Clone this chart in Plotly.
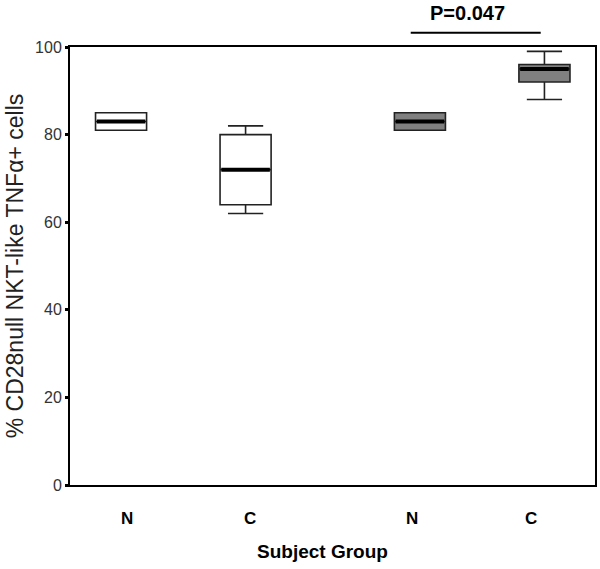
import plotly.graph_objects as go

# ---- data ----
groups = ["N", "C", "N", "C"]
q1 = [81, 64, 81, 92]
medians = [83, 72, 83, 95]
q3 = [85, 80, 85, 96]
lowerfence = [81, 62, 81, 88]
upperfence = [85, 82, 85, 99]
p_label = "P=0.047"

# ---- layout positions ----
positions = [1.0, 2.0, 3.4, 4.4]
label_pos = [1.048, 2.036, 3.337, 4.293]
fills = ["white", "white", "#808080", "#808080"]
box_w = 0.41

fig = go.Figure()
for i in range(len(groups)):
    fig.add_trace(go.Box(
        x=[positions[i]], q1=[q1[i]], median=[medians[i]], q3=[q3[i]],
        lowerfence=[lowerfence[i]], upperfence=[upperfence[i]],
        width=box_w, whiskerwidth=0.69, fillcolor=fills[i],
        line=dict(color="#222222", width=1.6), boxpoints=False,
        showlegend=False, hoverinfo="skip"))
    fig.add_trace(go.Scatter(
        x=[positions[i] - box_w / 2 + 0.01, positions[i] + box_w / 2 - 0.01],
        y=[medians[i], medians[i]], mode="lines",
        line=dict(color="black", width=4), showlegend=False, hoverinfo="skip"))

font = "Liberation Sans, Arial, sans-serif"
fig.update_layout(
    width=600, height=569,
    margin=dict(l=70, r=5, t=47, b=84, autoexpand=False),
    paper_bgcolor="white", plot_bgcolor="white",
    font=dict(family=font, color="#222"),
    xaxis=dict(range=[0.59, 4.806], tickvals=label_pos, ticktext=groups,
               showgrid=False, zeroline=False, ticks="", ticklabelstandoff=17,
               tickfont=dict(size=17, color="black", family=font, weight="bold"),
               showline=True, linecolor="black", linewidth=2, mirror=True,
               automargin=False),
    yaxis=dict(range=[0, 100], tickvals=[0, 20, 40, 60, 80, 100],
               showgrid=False, zeroline=False, ticks="outside", ticklen=3,
               tickwidth=3, tickcolor="black",
               tickfont=dict(size=16, color="#333"),
               showline=True, linecolor="black", linewidth=2, mirror=True,
               automargin=False,
               title=dict(text="% CD28null NKT-like TNFα+ cells",
                          font=dict(size=23, color="#222"), standoff=5)),
)

fig.add_annotation(text="<b>Subject Group</b>", xref="paper", yref="paper",
                   x=0.48, y=(485 - 551) / 438, showarrow=False,
                   font=dict(size=19, color="black"), xanchor="center", yanchor="middle")
fig.add_annotation(text="<b>" + p_label + "</b>", xref="paper", yref="paper",
                   x=0.7575, y=(485 - 13) / 438, showarrow=False,
                   font=dict(size=20, color="black"), xanchor="center", yanchor="middle")
fig.add_shape(type="line", xref="paper", yref="paper", x0=0.649, x1=0.8966,
              y0=1.0326, y1=1.0326, line=dict(color="black", width=2))

fig.write_html("out.html", config={"displayModeBar": False},
               post_script="document.body.style.margin='0';")
